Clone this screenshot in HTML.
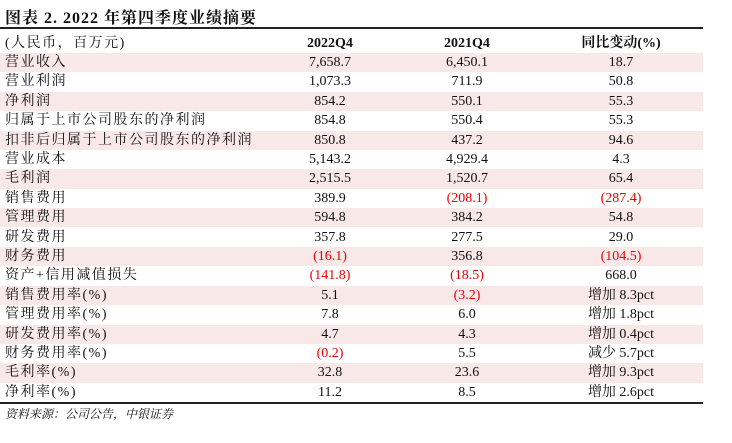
<!DOCTYPE html>
<html><head><meta charset="utf-8"><style>
body{margin:0;width:732px;height:443px;background:#fff;position:relative;overflow:hidden;font-family:"Liberation Serif","Noto Serif CJK SC",serif;color:#111}
.title{position:absolute;left:5px;top:5px;font-size:16px;font-weight:bold;letter-spacing:1px}
.rule{position:absolute;left:0;width:703px;height:1.5px;background:#222}
.row{position:absolute;left:0;width:703px;height:19.4px;font-size:14px;line-height:19.4px}
.row.s{background:#f8e8e7}
.row span{position:absolute;top:0;white-space:nowrap}
.c0{left:5px;letter-spacing:1.5px}
.c1{left:270px;width:120px;text-align:center}
.c2{left:407px;width:120px;text-align:center}
.c3{left:560px;width:122px;text-align:center}
.r{color:#e00}
.hdr{font-weight:bold}
.src{position:absolute;left:5px;top:405px;font-size:12px;font-style:italic}
</style></head><body>
<div class="title">图表 2. 2022 年第四季度业绩摘要</div>
<div class="rule" style="top:27px"></div>
<div id="tbl"></div>
<div class="rule" style="top:402px"></div>
<div class="src">资料来源：公司公告，中银证券</div>
<script>
const labels=["营业收入","营业利润","净利润","归属于上市公司股东的净利润","扣非后归属于上市公司股东的净利润","营业成本","毛利润","销售费用","管理费用","研发费用","财务费用","资产+信用减值损失","销售费用率(%)","管理费用率(%)","研发费用率(%)","财务费用率(%)","毛利率(%)","净利率(%)"];
const q2022=["7,658.7","1,073.3","854.2","854.8","850.8","5,143.2","2,515.5","389.9","594.8","357.8","(16.1)","(141.8)","5.1","7.8","4.7","(0.2)","32.8","11.2"];
const q2021=["6,450.1","711.9","550.1","550.4","437.2","4,929.4","1,520.7","(208.1)","384.2","277.5","356.8","(18.5)","(3.2)","6.0","4.3","5.5","23.6","8.5"];
const yoy=["18.7","50.8","55.3","55.3","94.6","4.3","65.4","(287.4)","54.8","29.0","(104.5)","668.0","增加 8.3pct","增加 1.8pct","增加 0.4pct","减少 5.7pct","增加 9.3pct","增加 2.6pct"];
const tbl=document.getElementById('tbl');
function mk(top,cls,cells,name){
  const r=document.createElement('div');
  r.className='row '+cls;r.style.top=top+'px';
  
  
  cells.forEach((t,i)=>{const s=document.createElement('span');
    s.className='c'+i+(String(t).startsWith('(')&&i>0?' r':'');
    s.textContent=t;
    
    
    r.appendChild(s);});
  tbl.appendChild(r);
}
mk(33.5,'hdr',["(人民币，百万元)","2022Q4","2021Q4","同比变动(%)"],'header-row');
tbl.lastChild.firstChild.style.fontWeight='normal';
labels.forEach((l,i)=>mk(33.5+19.4*(i+1),i%2==0?'s':'',[l,q2022[i],q2021[i],yoy[i]],'data-row'));
</script>
</body></html>
